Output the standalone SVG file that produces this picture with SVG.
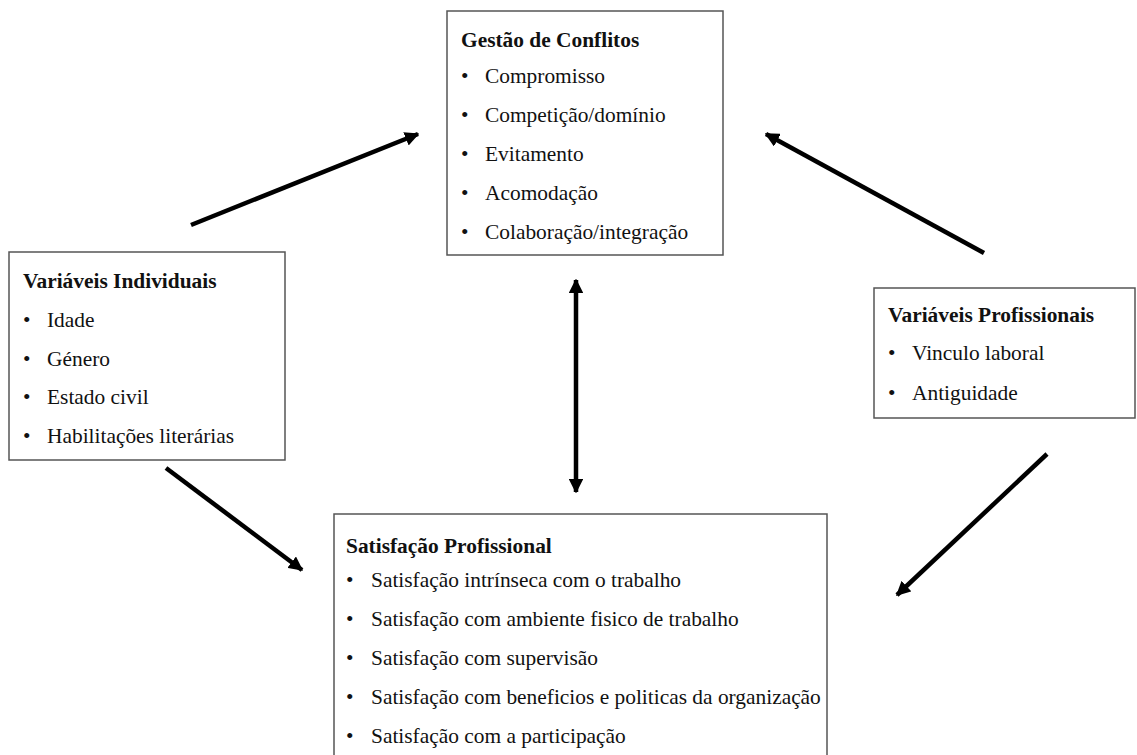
<svg xmlns="http://www.w3.org/2000/svg" width="1137" height="755" viewBox="0 0 1137 755">
<style>
.box{fill:#fff;stroke:#555;stroke-width:1.5}
text{font-family:"Liberation Serif","Times New Roman",serif;font-size:21.4px;fill:#111}
.t{font-weight:bold}
.c{stroke:#000;stroke-width:4.5;fill:none;stroke-linecap:butt}
</style>
<defs>
<marker id="ah" viewBox="0 0 10 10" refX="9" refY="5" markerWidth="3.2" markerHeight="3.2" orient="auto-start-reverse" markerUnits="strokeWidth">
<path d="M0,0 L10,5 L0,10 z" fill="#000"/>
</marker>
</defs>
<rect width="1137" height="755" fill="#fff"/>
<g id="connectors">
<line class="c" x1="191" y1="225" x2="418" y2="134" marker-end="url(#ah)"/>
<line class="c" x1="984" y1="253" x2="766" y2="134" marker-end="url(#ah)"/>
<line class="c" x1="166" y1="468" x2="302" y2="570" marker-end="url(#ah)"/>
<line class="c" x1="1047" y1="454" x2="897" y2="595" marker-end="url(#ah)"/>
<line class="c" x1="576" y1="280" x2="576" y2="492" marker-start="url(#ah)" marker-end="url(#ah)"/>
</g>
<g id="gestao">
<rect class="box" x="447" y="11" width="276" height="244"/>
<text class="t" x="461" y="47">Gestão de Conflitos</text>
<text x="461" y="83">•</text><text x="485" y="83">Compromisso</text>
<text x="461" y="122">•</text><text x="485" y="122">Competição/domínio</text>
<text x="461" y="161">•</text><text x="485" y="161">Evitamento</text>
<text x="461" y="200">•</text><text x="485" y="200">Acomodação</text>
<text x="461" y="239">•</text><text x="485" y="239">Colaboração/integração</text>
</g>
<g id="individuais">
<rect class="box" x="9" y="252" width="276" height="208"/>
<text class="t" x="23" y="288">Variáveis Individuais</text>
<text x="23" y="327">•</text><text x="47" y="327">Idade</text>
<text x="23" y="366">•</text><text x="47" y="366">Género</text>
<text x="23" y="404">•</text><text x="47" y="404">Estado civil</text>
<text x="23" y="443">•</text><text x="47" y="443">Habilitações literárias</text>
</g>
<g id="profissionais">
<rect class="box" x="874" y="288" width="261" height="130"/>
<text class="t" x="888" y="322">Variáveis Profissionais</text>
<text x="888" y="360">•</text><text x="912" y="360">Vinculo laboral</text>
<text x="888" y="400">•</text><text x="912" y="400">Antiguidade</text>
</g>
<g id="satisfacao">
<rect class="box" x="334" y="514" width="493" height="260"/>
<text class="t" x="346" y="553">Satisfação Profissional</text>
<text x="346" y="587">•</text><text x="371" y="587">Satisfação intrínseca com o trabalho</text>
<text x="346" y="626">•</text><text x="371" y="626">Satisfação com ambiente fisico de trabalho</text>
<text x="346" y="665">•</text><text x="371" y="665">Satisfação com supervisão</text>
<text x="346" y="704">•</text><text x="371" y="704">Satisfação com beneficios e politicas da organização</text>
<text x="346" y="743">•</text><text x="371" y="743">Satisfação com a participação</text>
</g>
</svg>
